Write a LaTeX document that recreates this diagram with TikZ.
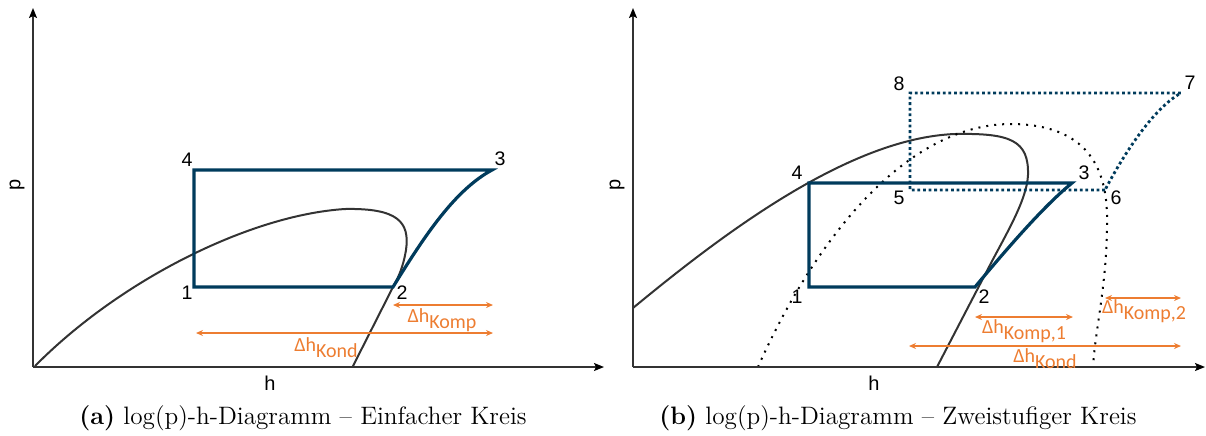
\documentclass[tikz,border=0pt]{standalone}
\usepackage{fontspec}
\usetikzlibrary{arrows.meta}
\newfontfamily\numfont{Liberation Sans}
\newfontfamily\lblfont{Carlito}
\definecolor{cycblue}{RGB}{0,59,92}
\definecolor{dhorange}{RGB}{237,125,49}
\definecolor{domegray}{RGB}{51,51,51}
\newcommand\DHlab[1]{Δh\raisebox{-3pt}{#1}}
\tikzset{
  axisline/.style={draw=domegray, line width=0.75pt, -{Stealth[length=5pt,width=4pt,inset=1pt,color=black]}},
  cycline/.style={draw=cycblue, line width=1.6pt, line join=miter},
  cycdot/.style={draw=cycblue, line width=1.4pt, dash pattern=on 1.4pt off 1.4pt},
  domeline/.style={draw=domegray, line width=1pt},
  domedot/.style={draw=black, line width=1pt, dash pattern=on 1pt off 3pt},
  dharrow/.style={draw=dhorange, line width=0.6pt, {Stealth[length=3.5pt,width=3pt]}-{Stealth[length=3.5pt,width=3pt]}},
  num/.style={font=\numfont\fontsize{9.8}{11}\selectfont, inner sep=0pt},
  axlab/.style={font=\numfont\fontsize{10}{11}\selectfont, inner sep=0pt},
  dhl/.style={text=dhorange, font=\lblfont\fontsize{10}{12}\selectfont, inner sep=0pt},
  captext/.style={font=\fontsize{12.6}{14}\selectfont, inner sep=0pt}
}
\begin{document}
\begin{tikzpicture}[x=0.5pt,y=-0.5pt]
\useasboundingbox (0,0) rectangle (1206,435);
% ---------------- left panel ----------------
\coordinate (LO) at (33,367);
\coordinate (LY) at (33,8);
\coordinate (LX) at (604,367);
\draw[domeline] (35,366) .. controls (120,280) and (250,215) .. (345,209)
  .. controls (398,208) and (410,222) .. (406,250)
  .. controls (403,268) and (398,278) .. (393,287) -- (352.5,367);
\draw[axisline] (LO) -- (LY);
\draw[axisline] (LO) -- (LX);
\coordinate (L1) at (194,287);
\coordinate (L2) at (393,287);
\coordinate (L3) at (492,170);
\coordinate (L4) at (194,170);
\draw[cycline] (L2) .. controls (425,235) and (455,190) .. (L3) -- (L4) -- (L1) -- cycle;
\node[num] (n1) at (187,293) {1};
\node[num] (n2) at (402,293) {2};
\node[num] (n3) at (500,159) {3};
\node[num] (n4) at (187,160) {4};
\node[axlab] (lh) at (270,383) {h};
\node[axlab, rotate=90] (lp) at (17,185) {p};
\coordinate (LKa) at (393,305);
\coordinate (LKb) at (493,305);
\coordinate (LCa) at (196,333);
\coordinate (LCb) at (493,333);
\draw[dharrow] (LKa) -- (LKb);
\draw[dharrow] (LCa) -- (LCb);
\node[dhl] (lkomp) at (442,320) {\DHlab{Komp}};
\node[dhl] (lkond) at (326,348) {\DHlab{Kond}};
\node[captext] (capa) at (303,418) {\textbf{(a)} log(p)-h-Diagramm – Einfacher Kreis};
% ---------------- right panel ----------------
\coordinate (RO) at (633,367);
\coordinate (RY) at (633,8);
\coordinate (RX) at (1205,367);
\draw[domeline] (633,308) .. controls (725,232) and (850,138) .. (955,134)
  .. controls (1010,133) and (1029,140) .. (1028,175)
  .. controls (1027,200) and (1005,236) .. (990,265) -- (937,367);
\draw[domedot] (758,367) .. controls (810,250) and (900,125) .. (1010,124)
  .. controls (1080,124) and (1106,160) .. (1107,215)
  .. controls (1108,280) and (1095,330) .. (1093,367);
\draw[axisline] (RO) -- (RY);
\draw[axisline] (RO) -- (RX);
\coordinate (R1) at (809,287);
\coordinate (R2) at (975,287);
\coordinate (R3) at (1072,183);
\coordinate (R4) at (809,183);
\coordinate (R5) at (910,190);
\coordinate (R6) at (1105,190);
\coordinate (R7) at (1181,93);
\coordinate (R8) at (910,93);
\draw[cycline] (R2) .. controls (1010,245) and (1045,205) .. (R3) -- (R4) -- (R1) -- cycle;
\draw[cycdot] (R6) -- (R5) -- (R8) -- (R7) .. controls (1150,110) and (1118,165) .. (R6);
\node[num] (m1) at (797,297) {1};
\node[num] (m2) at (984,297) {2};
\node[num] (m3) at (1084,173) {3};
\node[num] (m4) at (797,173) {4};
\node[num] (m5) at (899,198) {5};
\node[num] (m6) at (1116,198) {6};
\node[num] (m7) at (1190,83) {7};
\node[num] (m8) at (899,84) {8};
\node[axlab] (rh) at (874,383) {h};
\node[axlab, rotate=90] (rp) at (617,185) {p};
\coordinate (RK1a) at (975,317);
\coordinate (RK1b) at (1073,317);
\coordinate (RK2a) at (1105,298);
\coordinate (RK2b) at (1181,298);
\coordinate (RCa) at (909,346);
\coordinate (RCb) at (1181,346);
\draw[dharrow] (RK1a) -- (RK1b);
\draw[dharrow] (RK2a) -- (RK2b);
\draw[dharrow] (RCa) -- (RCb);
\node[dhl] (rkomp1) at (1024,331) {\DHlab{Komp,1}};
\node[dhl] (rkomp2) at (1144,311) {\DHlab{Komp,2}};
\node[dhl] (rkond) at (1045,359) {\DHlab{Kond}};
\node[captext] (capb) at (898,418) {\textbf{(b)} log(p)-h-Diagramm – Zweistufiger Kreis};
\end{tikzpicture}
\end{document}
